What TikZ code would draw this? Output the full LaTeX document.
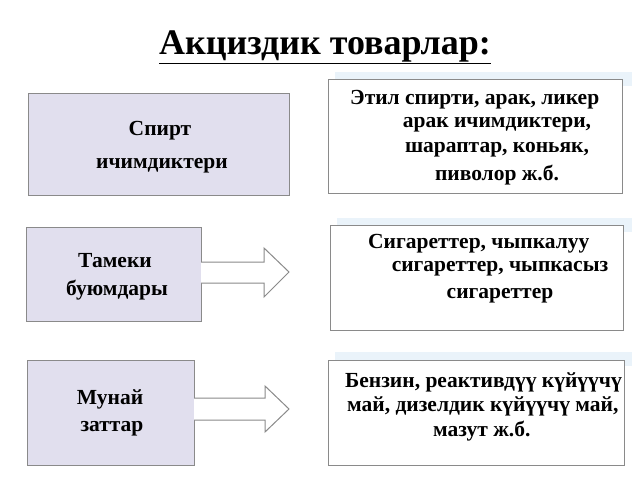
\documentclass[tikz,border=0pt]{standalone}
\usepackage{fontspec}
\setmainfont{Liberation Serif}
\usetikzlibrary{positioning}
\definecolor{lav}{HTML}{E1DFEE}
\definecolor{edge}{HTML}{8A8A8A}
\definecolor{glow}{HTML}{DCEBF8}
\tikzset{
  leftbox/.style={draw=edge,fill=lav,line width=1pt},
  rightbox/.style={draw=edge,fill=white,line width=1pt},
  txt/.style={font=\fontsize{21.5}{24}\selectfont\bfseries,inner sep=0pt},
  blockarrow/.style={draw=edge,fill=white,line width=1pt,line join=miter}
}
\begin{document}
\begin{tikzpicture}[x=1pt,y=-1pt]
\useasboundingbox[fill=white] (0,0) rectangle (640,480);
%glow
\fill[glow,opacity=0.6] (335,72) rectangle (632,86);
\fill[glow,opacity=0.6] (337,218) rectangle (632,232);
\fill[glow,opacity=0.6] (335,352) rectangle (632,366);

%title
\node[txt,font=\fontsize{36}{40}\selectfont\bfseries] (title) at (325,47) {\underline{Акциздик товарлар:}};

%boxes
\draw[leftbox] (28,93) rectangle (289,195);
\draw[rightbox] (328,79) rectangle (622,193);
\draw[leftbox] (26,227) rectangle (201,321);
\draw[rightbox] (330,225) rectangle (623,330);
\draw[leftbox] (27,360) rectangle (194,465);
\draw[rightbox] (328,360) rectangle (624,465);

%arrows
\draw[blockarrow] (201,262) -- (264,262) -- (264,248) -- (289,272) -- (264,297) -- (264,283) -- (201,283);
\draw[blockarrow] (194,398) -- (265,398) -- (265,386) -- (289,409) -- (265,432) -- (265,420) -- (194,420);

%texts
\node[txt] (spirt) at (160,131) {Спирт};
\node[txt] (spirtb) at (162,166) {ичимдиктери};
\node[txt,anchor=west] (et1) at (350,100) {Этил спирти, арак, ликер};
\node[txt] (et2) at (497,125) {арак ичимдиктери,};
\node[txt] (et3) at (497,150) {шараптар, коньяк,};
\node[txt] (et4) at (497,175) {пиволор ж.б.};

\node[txt] (tam1) at (115,261) {Тамеки};
\node[txt] (tam2) at (117,290) {буюмдары};
\node[txt,anchor=west] (sig1) at (368,244) {Сигареттер, чыпкалуу};
\node[txt] (sig2) at (500,269) {сигареттер, чыпкасыз};
\node[txt] (sig3) at (500,296) {сигареттер};

\node[txt] (mun1) at (110,399) {Мунай};
\node[txt] (mun2) at (112,429) {заттар};
\node[txt,anchor=west] (ben1) at (345,382) {Бензин, реактивдүү күйүүчү};
\node[txt,anchor=west] (ben2) at (347,406) {май, дизелдик күйүүчү май,};
\node[txt,anchor=west] (ben3) at (433,431) {мазут ж.б.};
\end{tikzpicture}
\end{document}
